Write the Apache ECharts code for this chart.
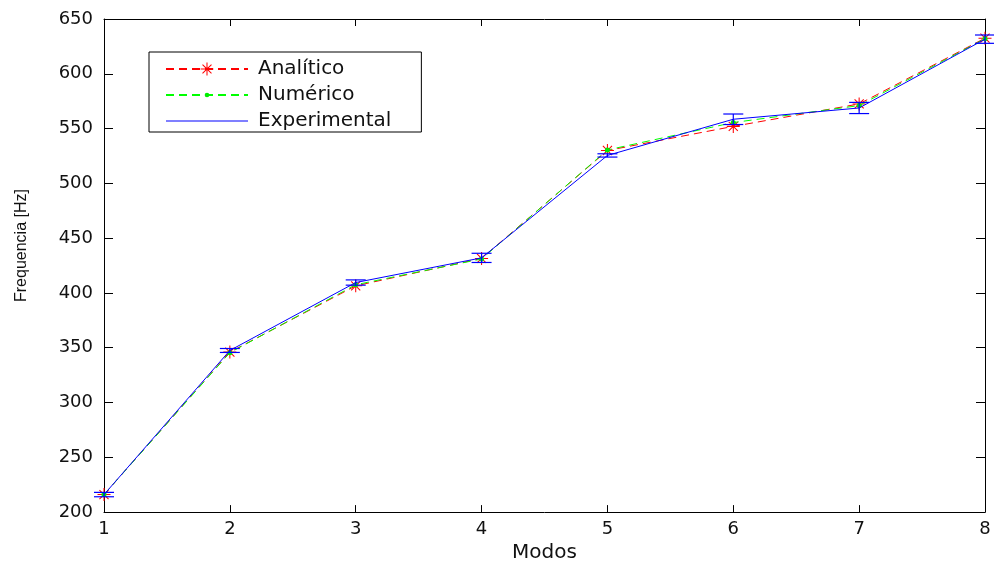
<!DOCTYPE html>
<html>
<head>
<meta charset="utf-8">
<title>Frequências por modo</title>
<script src="https://cdn.jsdelivr.net/npm/echarts@6/dist/echarts.min.js"></script>
<style>
  html, body { margin: 0; padding: 0; background: #ffffff; }
  #chart { width: 994px; height: 568px; }
</style>
</head>
<body>
<div id="chart"></div>
<script>
// Modal frequencies [Hz] for the first eight modes
const modos = [1, 2, 3, 4, 5, 6, 7, 8];
const analitico = [216, 346, 406.5, 431.5, 530, 552, 572.5, 632.5];
const numerico = [216, 345.5, 407.5, 431, 530.5, 555.5, 571, 632];
const experimental = [216, 347.5, 409.5, 432, 525.5, 558.5, 568.8, 631.6];
// half-width of the experimental uncertainty band [Hz]
const incerteza = [2, 1.8, 2.4, 4.2, 1.5, 4.8, 5.1, 3.8];

const xTicks = { min: 1, max: 8, interval: 1 };
const yTicks = { min: 200, max: 650, interval: 50 };

// Marker shapes: an eight-armed asterisk and a small dot inside a wider box
const ASTERISCO = 'path://M0,46 L100,46 L100,54 L0,54 Z M46,0 L54,0 L54,100 L46,100 Z ' +
  'M17.8,12.2 L87.8,82.2 L82.2,87.8 L12.2,17.8 Z M82.2,12.2 L87.8,17.8 L17.8,87.8 L12.2,82.2 Z';
const PONTO = 'path://M0,0 M100,100 M32,50 A18,18 0 1 1 68,50 A18,18 0 1 1 32,50 Z';
const TRACO = 'path://M0,0 L100,0 L100,1.3 L0,1.3 Z';

const FONT = 'DejaVu Sans';
const TXT = '#111111';
const TRACEJADO = [8, 5];

const pares = (ys) => modos.map((m, i) => [m, ys[i]]);
const barras = modos.map((m, i) => [m, experimental[i] - incerteza[i], experimental[i] + incerteza[i]]);

const chart = echarts.init(document.getElementById('chart'), null, { renderer: 'canvas' });

const baseAxisLine = { show: true, onZero: false, lineStyle: { color: '#000', width: 1 } };

chart.setOption({
  animation: false,
  backgroundColor: '#ffffff',
  grid: { left: 104, right: 9, top: 19, bottom: 55, containLabel: false },
  legend: {
    orient: 'vertical',
    left: 149,
    top: 52,
    padding: [7, 30, 1, 16],
    itemGap: 6,
    itemWidth: 82,
    itemHeight: 16,
    backgroundColor: '#ffffff',
    borderColor: '#000000',
    borderWidth: 1,
    borderRadius: 0,
    selectedMode: false,
    textStyle: { fontFamily: FONT, fontSize: 20, color: TXT, lineHeight: 20, padding: [0, 0, 0, 5] },
    data: [
      { name: 'Analítico' },
      { name: 'Numérico' },
      { name: 'Experimental', icon: TRACO }
    ]
  },
  xAxis: [
    {
      type: 'value',
      position: 'bottom',
      min: xTicks.min, max: xTicks.max, interval: xTicks.interval,
      name: 'Modos',
      nameLocation: 'middle',
      nameGap: 30,
      nameTextStyle: { fontFamily: FONT, fontSize: 20, color: TXT },
      axisLine: baseAxisLine,
      axisTick: { show: true, inside: true, length: 7, lineStyle: { color: '#000' } },
      axisLabel: { fontFamily: FONT, fontSize: 18, color: TXT, margin: 8 },
      splitLine: { show: false }
    },
    {
      type: 'value',
      position: 'top',
      min: xTicks.min, max: xTicks.max, interval: xTicks.interval,
      axisLine: baseAxisLine,
      axisTick: { show: true, inside: true, length: 7, lineStyle: { color: '#000' } },
      axisLabel: { show: false },
      splitLine: { show: false }
    }
  ],
  yAxis: [
    {
      type: 'value',
      position: 'left',
      min: yTicks.min, max: yTicks.max, interval: yTicks.interval,
      name: 'Frequencia [Hz]',
      nameLocation: 'middle',
      nameGap: 74,
      nameRotate: 90,
      nameTextStyle: { fontFamily: 'Liberation Sans', fontSize: 16, color: TXT, padding: [0, 0, 0, 40] },
      axisLine: baseAxisLine,
      axisTick: { show: true, inside: true, length: 9, lineStyle: { color: '#000' } },
      axisLabel: { fontFamily: FONT, fontSize: 18, color: TXT, margin: 11 },
      splitLine: { show: false }
    },
    {
      type: 'value',
      position: 'right',
      min: yTicks.min, max: yTicks.max, interval: yTicks.interval,
      axisLine: baseAxisLine,
      axisTick: { show: true, inside: true, length: 9, lineStyle: { color: '#000' } },
      axisLabel: { show: false },
      splitLine: { show: false }
    }
  ],
  series: [
    {
      name: 'Analítico',
      type: 'line',
      xAxisIndex: 0, yAxisIndex: 0,
      data: pares(analitico),
      color: '#ff0000',
      symbol: ASTERISCO,
      symbolSize: 13,
      showAllSymbol: true,
      itemStyle: { color: '#ff0000' },
      lineStyle: { color: '#ff0000', width: 1, type: TRACEJADO },
      z: 2
    },
    {
      name: 'Numérico',
      type: 'line',
      xAxisIndex: 0, yAxisIndex: 0,
      data: pares(numerico),
      color: '#00ff00',
      symbol: PONTO,
      symbolSize: 14,
      showAllSymbol: true,
      itemStyle: { color: '#00ee00' },
      lineStyle: { color: '#00ff00', width: 1, type: TRACEJADO },
      z: 3
    },
    {
      name: 'Experimental',
      type: 'line',
      xAxisIndex: 0, yAxisIndex: 0,
      data: pares(experimental),
      color: '#0000ff',
      symbol: 'none',
      itemStyle: { color: '#0000ff' },
      lineStyle: { color: '#0000ff', width: 1, type: 'solid' },
      z: 4
    },
    {
      name: 'Incerteza experimental',
      type: 'custom',
      xAxisIndex: 0, yAxisIndex: 0,
      data: barras,
      z: 5,
      renderItem: function (params, api) {
        const m = api.value(0);
        const lo = api.coord([m, api.value(1)]);
        const hi = api.coord([m, api.value(2)]);
        const hw = 10;
        const st = { stroke: '#0000ff', lineWidth: 1.2, fill: null };
        return {
          type: 'group',
          children: [
            { type: 'line', shape: { x1: lo[0], y1: lo[1], x2: hi[0], y2: hi[1] }, style: st },
            { type: 'line', shape: { x1: lo[0] - hw, y1: lo[1], x2: lo[0] + hw, y2: lo[1] }, style: st },
            { type: 'line', shape: { x1: hi[0] - hw, y1: hi[1], x2: hi[0] + hw, y2: hi[1] }, style: st }
          ]
        };
      }
    }
  ]
});
</script>
</body>
</html>
